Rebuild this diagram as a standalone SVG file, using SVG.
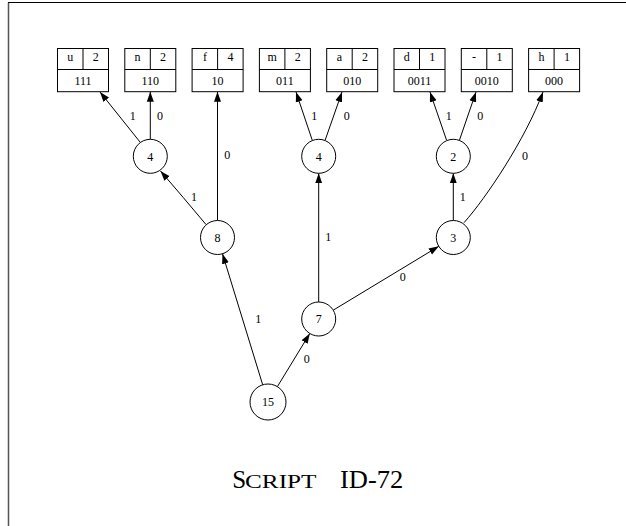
<svg xmlns="http://www.w3.org/2000/svg" width="626" height="526" viewBox="0 0 626 526">
<style>
.bx{fill:#fff;stroke:#000;stroke-width:1}
.nd{fill:#fff;stroke:#000;stroke-width:1}
.t{font-family:"Liberation Serif","Times New Roman",serif;font-size:12px;fill:#000;text-anchor:middle}
.e{fill:none;stroke:#000;stroke-width:1;marker-end:url(#ah)}
.cap{font-family:"Liberation Serif","Times New Roman",serif;fill:#000}
</style>
<defs>
<marker id="ah" markerUnits="userSpaceOnUse" markerWidth="10" markerHeight="8" refX="10" refY="3.5" orient="auto" viewBox="0 0 10 7">
<path d="M0,0 L10,3.5 L0,7 z" fill="#000"/>
</marker>
</defs>
<rect width="626" height="526" fill="#fff"/>
<path d="M8.5,526 V2.5" stroke="#555" stroke-width="1.5" fill="none"/>
<path d="M8,2.5 H626" stroke="#000" stroke-width="1" fill="none"/>

<g id="connectors">
<path class="e" d="M140,142 L100,92"/>
<path class="e" d="M150.3,139.3 L150.3,91.7"/>
<path class="e" d="M206,224.5 Q183,197 160.5,171"/>
<path class="e" d="M217.5,220.5 L217.5,91.7"/>
<path class="e" d="M262.7,384.8 L222.5,253.8"/>
<path class="e" d="M277.4,386.6 L309.8,333.5"/>
<path class="e" d="M318.7,302 L318.7,173.3"/>
<path class="e" d="M333.2,310.2 L438.8,246.3"/>
<path class="e" d="M312.2,140 L296,92"/>
<path class="e" d="M325.2,140 L342,92"/>
<path class="e" d="M446.5,140 L430,92"/>
<path class="e" d="M459.5,140 L476,92"/>
<path class="e" d="M453.3,220.5 L453.3,173.3"/>
<path class="e" d="M464,222.7 C486,198 525,140 543,92"/>
<text class="t" x="132.7" y="120">1</text>
<text class="t" x="160" y="120">0</text>
<text class="t" x="194" y="200.7">1</text>
<text class="t" x="227.3" y="159.3">0</text>
<text class="t" x="314.3" y="120">1</text>
<text class="t" x="346.7" y="120">0</text>
<text class="t" x="448.7" y="120">1</text>
<text class="t" x="480.3" y="120">0</text>
<text class="t" x="525" y="160">0</text>
<text class="t" x="462.7" y="200.7">1</text>
<text class="t" x="328.3" y="240.7">1</text>
<text class="t" x="402.7" y="281.3">0</text>
<text class="t" x="258.3" y="323.3">1</text>
<text class="t" x="306.7" y="362.7">0</text>
</g>

<g id="box-u"><rect class="bx" x="57.5" y="48.5" width="51" height="43.2"/><path d="M57.5,69.5 H108.5 M83,48.5 V69.5" stroke="#000" fill="none"/><text class="t" x="70.3" y="61">u</text><text class="t" x="95.8" y="61">2</text><text class="t" x="83" y="85">111</text></g>
<g id="box-n"><rect class="bx" x="124.8" y="48.5" width="51" height="43.2"/><path d="M124.8,69.5 H175.8 M150.3,48.5 V69.5" stroke="#000" fill="none"/><text class="t" x="137.6" y="61">n</text><text class="t" x="163.1" y="61">2</text><text class="t" x="150.3" y="85">110</text></g>
<g id="box-f"><rect class="bx" x="192.1" y="48.5" width="51" height="43.2"/><path d="M192.1,69.5 H243.1 M217.6,48.5 V69.5" stroke="#000" fill="none"/><text class="t" x="204.9" y="61">f</text><text class="t" x="230.4" y="61">4</text><text class="t" x="217.6" y="85">10</text></g>
<g id="box-m"><rect class="bx" x="259.4" y="48.5" width="51" height="43.2"/><path d="M259.4,69.5 H310.4 M284.9,48.5 V69.5" stroke="#000" fill="none"/><text class="t" x="272.2" y="61">m</text><text class="t" x="297.7" y="61">2</text><text class="t" x="284.9" y="85">011</text></g>
<g id="box-a"><rect class="bx" x="326.7" y="48.5" width="51" height="43.2"/><path d="M326.7,69.5 H377.7 M352.2,48.5 V69.5" stroke="#000" fill="none"/><text class="t" x="339.5" y="61">a</text><text class="t" x="365" y="61">2</text><text class="t" x="352.2" y="85">010</text></g>
<g id="box-d"><rect class="bx" x="394" y="48.5" width="51" height="43.2"/><path d="M394,69.5 H445 M419.5,48.5 V69.5" stroke="#000" fill="none"/><text class="t" x="406.8" y="61">d</text><text class="t" x="432.3" y="61">1</text><text class="t" x="419.5" y="85">0011</text></g>
<g id="box-dash"><rect class="bx" x="461.3" y="48.5" width="51" height="43.2"/><path d="M461.3,69.5 H512.3 M486.8,48.5 V69.5" stroke="#000" fill="none"/><text class="t" x="474.1" y="61">-</text><text class="t" x="499.6" y="61">1</text><text class="t" x="486.8" y="85">0010</text></g>
<g id="box-h"><rect class="bx" x="528.6" y="48.5" width="51" height="43.2"/><path d="M528.6,69.5 H579.6 M554.1,48.5 V69.5" stroke="#000" fill="none"/><text class="t" x="541.4" y="61">h</text><text class="t" x="566.9" y="61">1</text><text class="t" x="554.1" y="85">000</text></g>

<g id="n4a"><circle class="nd" cx="150.3" cy="156.3" r="17"/><text class="t" x="150.3" y="160.5">4</text></g>
<g id="n8"><circle class="nd" cx="217.5" cy="237.5" r="17"/><text class="t" x="217.5" y="241.5">8</text></g>
<g id="n4b"><circle class="nd" cx="318.7" cy="156.3" r="17"/><text class="t" x="318.7" y="160.5">4</text></g>
<g id="n2"><circle class="nd" cx="453.3" cy="156.3" r="17"/><text class="t" x="453.3" y="160.5">2</text></g>
<g id="n3"><circle class="nd" cx="453.3" cy="237.5" r="17"/><text class="t" x="453.3" y="241.5">3</text></g>
<g id="n7"><circle class="nd" cx="318.7" cy="319" r="17"/><text class="t" x="318.7" y="323">7</text></g>
<g id="n15"><circle class="nd" cx="268" cy="402" r="18"/><text class="t" x="268" y="406">15</text></g>

<text class="cap" y="487.5"><tspan x="232.3" font-size="25">S</tspan><tspan x="245" font-size="19" textLength="71.5" lengthAdjust="spacingAndGlyphs">CRIPT</tspan><tspan x="340" font-size="25" textLength="63.3" lengthAdjust="spacingAndGlyphs">ID-72</tspan></text>
</svg>
